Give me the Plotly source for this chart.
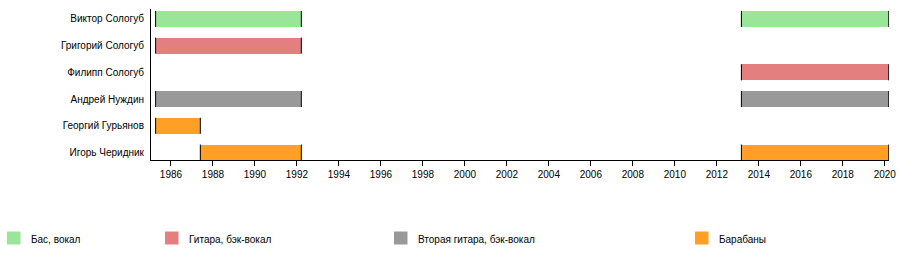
import plotly.graph_objects as go

# ---- data ----
members = ["Игорь Черидник", "Георгий Гурьянов", "Андрей Нуждин",
           "Филипп Сологуб", "Григорий Сологуб", "Виктор Сологуб"]
roles = ["Бас, вокал", "Гитара, бэк-вокал", "Вторая гитара, бэк-вокал", "Барабаны"]
# periods: member, role, start, end
bar_member = ["Виктор Сологуб", "Виктор Сологуб",
              "Григорий Сологуб", "Филипп Сологуб",
              "Андрей Нуждин", "Андрей Нуждин",
              "Георгий Гурьянов", "Игорь Черидник", "Игорь Черидник"]
bar_role = ["Бас, вокал", "Бас, вокал",
            "Гитара, бэк-вокал", "Гитара, бэк-вокал",
            "Вторая гитара, бэк-вокал", "Вторая гитара, бэк-вокал",
            "Барабаны", "Барабаны", "Барабаны"]
bar_start = [1985.27, 2013.17, 1985.27, 2013.17, 1985.27, 2013.17, 1985.27, 1987.40, 2013.17]
bar_end = [1992.21, 2020.19, 1992.21, 2020.19, 1992.21, 2020.19, 1987.40, 1992.21, 2020.19]
tick_years = list(range(1986, 2021, 2))

# ---- style ----
colors = {"Бас, вокал": "#99e699", "Гитара, бэк-вокал": "#e47f7f",
          "Вторая гитара, бэк-вокал": "#999999", "Барабаны": "#ff9f26"}
FONT = "Liberation Sans, Arial, sans-serif"
W, H = 900, 260
ML, MR, MT, MB = 151, 11, 9, 100
BW = 0.6

ypos = {m: i for i, m in enumerate(members)}

fig = go.Figure()
for role in roles:
    idx = [i for i, r in enumerate(bar_role) if r == role]
    fig.add_trace(go.Bar(
        orientation="h",
        y=[ypos[bar_member[i]] for i in idx],
        x=[bar_end[i] - bar_start[i] for i in idx],
        base=[bar_start[i] for i in idx],
        width=BW,
        marker=dict(color=colors[role], line=dict(width=0)),
        showlegend=False, hoverinfo="skip"))

# black end marks
ex, ey = [], []
for m, s, e in zip(bar_member, bar_start, bar_end):
    c = ypos[m]
    for v in (s, e):
        ex += [v, v, None]
        ey += [c - BW / 2, c + BW / 2, None]
fig.add_trace(go.Scatter(x=ex, y=ey, mode="lines",
                         line=dict(color="black", width=1),
                         showlegend=False, hoverinfo="skip"))

# manual legend
pw = W - ML - MR
ph = H - MT - MB
def px2x(px):
    return (px - ML) / pw
def py2y(py):
    return (H - MB - py) / ph

leg_sq_x = [7, 165, 394, 695]
for role, sx in zip(roles, leg_sq_x):
    fig.add_shape(type="rect", xref="paper", yref="paper",
                  x0=px2x(sx), x1=px2x(sx + 13.5), y0=py2y(244.5), y1=py2y(231.5),
                  fillcolor=colors[role], line=dict(width=0))
    fig.add_annotation(xref="paper", yref="paper", x=px2x(sx + 22), y=py2y(239),
                       text=role, showarrow=False, xanchor="left", yanchor="middle",
                       font=dict(family=FONT, size=10, color="#000"))

fig.update_layout(
    width=W, height=H,
    margin=dict(l=ML, r=MR, t=MT, b=MB, pad=0, autoexpand=False),
    paper_bgcolor="white", plot_bgcolor="white",
    barmode="overlay", bargap=0,
    font=dict(family=FONT, size=10, color="#000"),
    xaxis=dict(range=[1985.05, 2020.2], tickvals=tick_years,
               ticktext=[str(y) for y in tick_years], automargin=False,
               showgrid=False, zeroline=False,
               showline=True, linecolor="black", linewidth=1,
               ticks="outside", ticklen=5, tickcolor="black", tickwidth=1,
               tickfont=dict(family=FONT, size=10, color="#000")),
    yaxis=dict(range=[-0.28, 5.37], tickvals=list(range(len(members))),
               ticktext=members, automargin=False, showgrid=False, zeroline=False,
               showline=True, linecolor="black", linewidth=1,
               ticks="outside", ticklen=4, tickcolor="rgba(0,0,0,0)",
               tickfont=dict(family=FONT, size=10, color="#000")),
)

fig.write_html("out.html")
